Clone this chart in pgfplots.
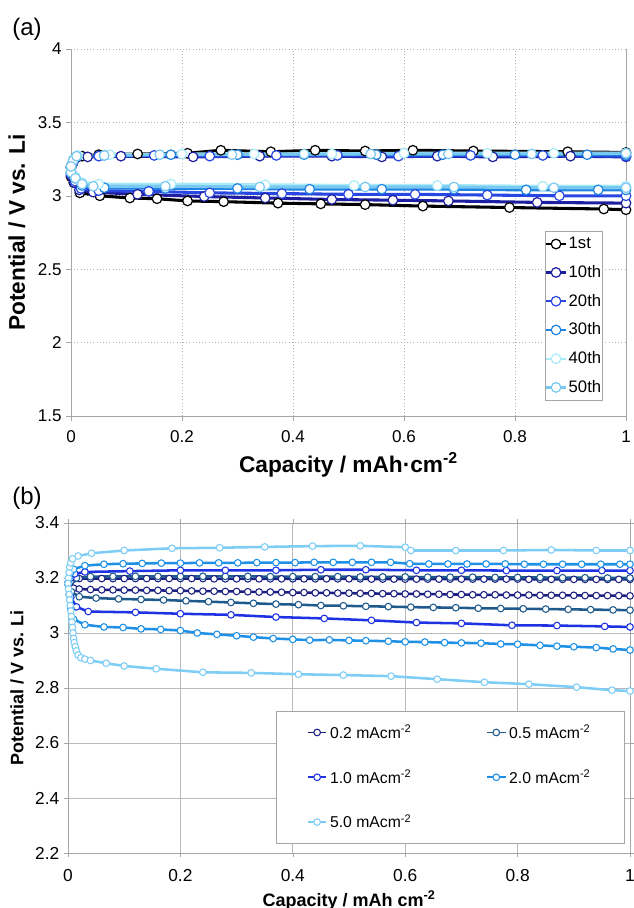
\documentclass[border=0pt]{standalone}
\usepackage{fontspec}
\setmainfont{Liberation Sans}
\usepackage{graphicx}
\usepackage{pgfplots}
\pgfplotsset{compat=1.18}

\definecolor{cA1}{RGB}{0,0,0}
\definecolor{cA10}{RGB}{30,30,160}
\definecolor{cA20}{RGB}{40,70,225}
\definecolor{cA30}{RGB}{30,130,225}
\definecolor{cA40}{RGB}{170,235,250}
\definecolor{cA50}{RGB}{120,200,240}
\definecolor{cB02}{RGB}{28,32,130}
\definecolor{cB05}{RGB}{30,90,140}
\definecolor{cB10}{RGB}{30,50,225}
\definecolor{cB20}{RGB}{30,145,230}
\definecolor{cB50}{RGB}{125,205,245}

\pgfplotsset{
  cyc/.style={color=#1, line width=2.3pt, mark=*, mark size=3.6pt,
    mark options={fill=white, line width=0.9pt, solid}},
  rate/.style={color=#1, line width=1.9pt, mark=*, mark size=2.5pt,
    mark options={fill=white, line width=0.8pt, solid}},
}

\begin{document}
\begin{tikzpicture}
\useasboundingbox (0,0) rectangle (475.5pt,681pt);
\node[font=\fontsize{18}{20}\selectfont] at (20.25pt,659pt) {(a)};
\node[font=\fontsize{18}{20}\selectfont] at (20.25pt,307pt) {(b)};

% ---------------- (a) cycling
\begin{axis}[
  at={(53.25pt,369pt)}, anchor=south west, scale only axis,
  width=416.25pt, height=275.25pt,
  xmin=0, xmax=1, ymin=1.5, ymax=4,
  xtick={0,0.2,0.4,0.6,0.8,1}, ytick={1.5,2,2.5,3,3.5,4},
  axis x line*=bottom, axis y line*=left,
  axis line style={gray!70,-},
  grid=major, major grid style={gray!60, dotted, line width=0.6pt},
  tick align=outside, major tick length=3.5pt, tick style={gray!70},
  tick label style={font=\fontsize{12.8}{14}\selectfont},
  xticklabel style={yshift=-4pt},
  /pgf/number format/assume math mode=true,
  xlabel={Capacity / mAh·cm\textsuperscript{-2}},
  ylabel={Potential / V vs. Li},
  label style={font=\bfseries\fontsize{17}{19}\selectfont},
  xlabel style={at={(axis description cs:0.5,-0.1335)}, anchor=center},
  ylabel style={at={(axis description cs:-0.0973,0.5)}, anchor=center},
  clip=false,
  legend style={at={(0.9586,0.504)}, anchor=north east, draw=gray!70,
    font=\fontsize{12.5}{14}\selectfont, row sep=10pt,
    inner xsep=0pt, inner ysep=4pt, nodes={inner xsep=1.2pt, inner ysep=0.5pt}},
  legend cell align=left,
  legend image code/.code={\draw[#1, mark repeat=2, mark phase=2, line width=1.6pt]
    plot coordinates {(0pt,0pt)(7.5pt,0pt)(15pt,0pt)};},
]
\addplot[cyc=cA1] coordinates {(0,3.13)(0.003,3.22)(0.008,3.26)(0.02,3.27)(0.05,3.28)(0.12,3.285)(0.21,3.29)(0.27,3.31)(0.36,3.30)(0.44,3.31)(0.53,3.305)(0.616,3.31)(0.725,3.305)(0.895,3.30)(1.0,3.295)};
\addlegendentry{1st}
\addplot[cyc=cA1, forget plot] coordinates {(0,3.2)(0.005,3.09)(0.016,3.02)(0.052,3.0)(0.106,2.985)(0.155,2.98)(0.21,2.965)(0.275,2.96)(0.373,2.95)(0.45,2.945)(0.53,2.94)(0.634,2.93)(0.79,2.92)(0.96,2.91)(1.0,2.905)};
\addplot[cyc=cA10] coordinates {(0,3.14)(0.004,3.23)(0.01,3.26)(0.03,3.265)(0.09,3.27)(0.22,3.265)(0.34,3.27)(0.47,3.27)(0.56,3.265)(0.66,3.27)(0.76,3.265)(0.9,3.27)(1.0,3.265)};
\addlegendentry{10th}
\addplot[cyc=cA10, forget plot] coordinates {(0,3.19)(0.006,3.09)(0.015,3.04)(0.04,3.025)(0.12,3.01)(0.24,2.995)(0.35,2.985)(0.47,2.975)(0.58,2.97)(0.68,2.965)(0.84,2.955)(1.0,2.95)};
\addplot[cyc=cA20] coordinates {(0,3.15)(0.004,3.23)(0.01,3.265)(0.05,3.27)(0.15,3.275)(0.25,3.27)(0.37,3.275)(0.48,3.275)(0.59,3.27)(0.72,3.275)(0.85,3.275)(1.0,3.27)};
\addlegendentry{20th}
\addplot[cyc=cA20, forget plot] coordinates {(0,3.19)(0.007,3.1)(0.018,3.05)(0.05,3.035)(0.14,3.03)(0.25,3.02)(0.38,3.015)(0.5,3.01)(0.62,3.01)(0.75,3.005)(0.88,3.0)(1.0,3.0)};
\addplot[cyc=cA30] coordinates {(0,3.16)(0.004,3.24)(0.012,3.27)(0.06,3.275)(0.18,3.28)(0.3,3.28)(0.42,3.28)(0.55,3.28)(0.67,3.28)(0.8,3.28)(0.93,3.28)(1.0,3.28)};
\addlegendentry{30th}
\addplot[cyc=cA30, forget plot] coordinates {(0,3.2)(0.007,3.12)(0.02,3.07)(0.06,3.055)(0.17,3.05)(0.3,3.05)(0.43,3.045)(0.56,3.045)(0.69,3.045)(0.82,3.04)(0.95,3.04)(1.0,3.04)};
\addplot[cyc=cA40] coordinates {(0,3.17)(0.004,3.25)(0.012,3.275)(0.07,3.28)(0.2,3.285)(0.33,3.285)(0.47,3.285)(0.6,3.29)(0.75,3.29)(0.87,3.29)(1.0,3.29)};
\addlegendentry{40th}
\addplot[cyc=cA40, forget plot] coordinates {(0,3.2)(0.008,3.13)(0.02,3.09)(0.05,3.08)(0.18,3.08)(0.35,3.075)(0.51,3.07)(0.66,3.07)(0.85,3.065)(1.0,3.065)};
\addplot[cyc=cA50] coordinates {(0,3.16)(0.004,3.24)(0.01,3.27)(0.06,3.275)(0.16,3.28)(0.29,3.28)(0.42,3.285)(0.54,3.285)(0.68,3.285)(0.83,3.285)(1.0,3.29)};
\addlegendentry{50th}
\addplot[cyc=cA50, forget plot] coordinates {(0,3.2)(0.008,3.12)(0.02,3.08)(0.04,3.065)(0.17,3.065)(0.34,3.06)(0.53,3.06)(0.69,3.06)(0.87,3.055)(1.0,3.055)};
\draw[gray!70] (rel axis cs:1,0) -- (rel axis cs:1,1);
\end{axis}

% ---------------- (b) rate
\begin{axis}[
  at={(51pt,41.25pt)}, anchor=south west, scale only axis,
  width=421.5pt, height=247.5pt,
  xmin=0, xmax=1, ymin=2.2, ymax=3.4,
  xtick={0,0.2,0.4,0.6,0.8,1}, ytick={2.2,2.4,2.6,2.8,3,3.2,3.4},
  axis line style={gray!70},
  grid=major, major grid style={gray!55, line width=0.7pt},
  tick align=outside, major tick length=3pt, tick style={gray!70},
  tick label style={font=\fontsize{13}{15}\selectfont},
  xticklabel style={yshift=-6pt},
  /pgf/number format/assume math mode=true,
  xlabel={Capacity / mAh cm\textsuperscript{-2}},
  ylabel={Potential / V vs. Li},
  label style={font=\bfseries\fontsize{13.5}{16}\selectfont},
  xlabel style={at={(axis description cs:0.5,-0.1424)}, anchor=center},
  ylabel style={at={(axis description cs:-0.0907,0.5)}, anchor=center},
  clip=false,
  legend columns=2,
  legend style={at={(0.370,0.430)}, anchor=north west, draw=gray!70,
    font=\fontsize{11.8}{14}\selectfont, row sep=18pt,
    inner xsep=23pt, inner ysep=8pt,
    /tikz/every even column/.append style={column sep=54pt}},
  legend cell align=left,
  legend image code/.code={\draw[#1, mark repeat=2, mark phase=2, line width=1.4pt]
    plot coordinates {(0pt,0pt)(7pt,0pt)(14pt,0pt)};},
]
\addplot[rate=cB02] coordinates {(0,3.18)(0.005,3.19)(0.01,3.196)(0.02,3.198)(0.04,3.198)(0.06,3.198)(0.08,3.198)(0.1,3.198)(0.12,3.198)(0.14,3.198)(0.16,3.198)(0.18,3.198)(0.2,3.198)(0.22,3.198)(0.24,3.198)(0.26,3.197)(0.28,3.197)(0.3,3.197)(0.32,3.197)(0.34,3.197)(0.36,3.197)(0.38,3.197)(0.4,3.197)(0.42,3.197)(0.44,3.197)(0.46,3.197)(0.48,3.197)(0.5,3.197)(0.52,3.197)(0.54,3.196)(0.56,3.196)(0.58,3.196)(0.6,3.196)(0.62,3.196)(0.64,3.196)(0.66,3.196)(0.68,3.196)(0.7,3.196)(0.72,3.196)(0.74,3.196)(0.76,3.196)(0.78,3.196)(0.8,3.196)(0.82,3.195)(0.84,3.195)(0.86,3.195)(0.88,3.195)(0.9,3.195)(0.92,3.195)(0.94,3.195)(0.96,3.195)(0.98,3.195)(1.0,3.195)};
\addlegendentry{0.2 mAcm\textsuperscript{-2}}
\addplot[rate=cB02, forget plot] coordinates {(0,3.18)(0.004,3.17)(0.01,3.163)(0.02,3.16)(0.04,3.158)(0.06,3.157)(0.08,3.157)(0.1,3.156)(0.12,3.156)(0.14,3.155)(0.16,3.155)(0.18,3.154)(0.2,3.154)(0.22,3.153)(0.24,3.152)(0.26,3.152)(0.28,3.151)(0.3,3.151)(0.32,3.15)(0.34,3.149)(0.36,3.149)(0.38,3.148)(0.4,3.147)(0.42,3.147)(0.44,3.146)(0.46,3.146)(0.48,3.145)(0.5,3.145)(0.52,3.144)(0.54,3.144)(0.56,3.143)(0.58,3.143)(0.6,3.142)(0.62,3.142)(0.64,3.141)(0.66,3.141)(0.68,3.14)(0.7,3.14)(0.72,3.139)(0.74,3.139)(0.76,3.139)(0.78,3.138)(0.8,3.138)(0.82,3.138)(0.84,3.137)(0.86,3.137)(0.88,3.137)(0.9,3.137)(0.92,3.136)(0.94,3.136)(0.96,3.136)(0.98,3.136)(1.0,3.135)};
\addplot[rate=cB05] coordinates {(0,3.18)(0.005,3.19)(0.015,3.2)(0.04,3.205)(0.08,3.206)(0.12,3.206)(0.16,3.206)(0.2,3.206)(0.24,3.206)(0.28,3.206)(0.32,3.206)(0.36,3.205)(0.4,3.205)(0.44,3.205)(0.48,3.205)(0.52,3.204)(0.56,3.204)(0.6,3.204)(0.64,3.203)(0.68,3.203)(0.72,3.203)(0.76,3.202)(0.8,3.202)(0.84,3.202)(0.88,3.201)(0.92,3.201)(0.96,3.2)(1.0,3.2)};
\addlegendentry{0.5 mAcm\textsuperscript{-2}}
\addplot[rate=cB05, forget plot] coordinates {(0,3.18)(0.006,3.15)(0.02,3.132)(0.05,3.127)(0.09,3.124)(0.13,3.122)(0.17,3.12)(0.21,3.117)(0.25,3.114)(0.29,3.111)(0.33,3.108)(0.37,3.105)(0.41,3.103)(0.45,3.1)(0.49,3.099)(0.53,3.097)(0.57,3.096)(0.61,3.094)(0.65,3.093)(0.69,3.092)(0.73,3.09)(0.77,3.089)(0.81,3.088)(0.85,3.087)(0.89,3.086)(0.93,3.085)(0.97,3.084)(1.0,3.083)};
\addplot[rate=cB10] coordinates {(0,3.18)(0.005,3.2)(0.012,3.215)(0.03,3.222)(0.11,3.225)(0.2,3.228)(0.28,3.228)(0.37,3.228)(0.45,3.23)(0.53,3.23)(0.62,3.228)(0.7,3.228)(0.78,3.227)(0.87,3.227)(0.95,3.227)(1.0,3.227)};
\addlegendentry{1.0 mAcm\textsuperscript{-2}}
\addplot[rate=cB10, forget plot] coordinates {(0,3.18)(0.005,3.13)(0.015,3.095)(0.036,3.078)(0.12,3.075)(0.2,3.07)(0.29,3.066)(0.37,3.058)(0.456,3.053)(0.54,3.046)(0.62,3.038)(0.70,3.035)(0.79,3.028)(0.87,3.027)(0.955,3.024)(1.0,3.022)};
\addplot[rate=cB20] coordinates {(0,3.18)(0.002,3.2)(0.005,3.22)(0.01,3.232)(0.03,3.245)(0.064,3.25)(0.098,3.252)(0.132,3.253)(0.166,3.254)(0.2,3.254)(0.234,3.255)(0.268,3.255)(0.302,3.255)(0.336,3.256)(0.37,3.256)(0.404,3.256)(0.438,3.257)(0.472,3.257)(0.506,3.257)(0.54,3.257)(0.574,3.257)(0.608,3.252)(0.642,3.251)(0.676,3.251)(0.71,3.251)(0.744,3.251)(0.778,3.251)(0.812,3.25)(0.846,3.25)(0.88,3.25)(0.914,3.25)(0.948,3.25)(0.982,3.25)(1.0,3.25)};
\addlegendentry{2.0 mAcm\textsuperscript{-2}}
\addplot[rate=cB20, forget plot] coordinates {(0,3.18)(0.002,3.14)(0.005,3.09)(0.01,3.05)(0.03,3.03)(0.064,3.022)(0.098,3.02)(0.13,3.015)(0.165,3.013)(0.2,3.009)(0.23,3.0)(0.265,2.995)(0.3,2.99)(0.33,2.985)(0.365,2.98)(0.4,2.977)(0.43,2.974)(0.465,2.975)(0.5,2.973)(0.53,2.972)(0.57,2.97)(0.6,2.968)(0.635,2.967)(0.67,2.965)(0.7,2.964)(0.735,2.963)(0.77,2.96)(0.8,2.959)(0.84,2.955)(0.87,2.952)(0.9,2.95)(0.94,2.947)(0.97,2.942)(1.0,2.938)};
\addplot[rate=cB50] coordinates {(0,3.18)(0.001,3.2)(0.002,3.22)(0.003,3.24)(0.005,3.255)(0.008,3.27)(0.018,3.28)(0.042,3.29)(0.10,3.30)(0.185,3.308)(0.27,3.31)(0.35,3.313)(0.435,3.316)(0.52,3.317)(0.6,3.312)(0.61,3.30)(0.69,3.30)(0.775,3.30)(0.86,3.302)(0.94,3.30)(1.0,3.30)};
\addlegendentry{5.0 mAcm\textsuperscript{-2}}
\addplot[rate=cB50, forget plot] coordinates {(0,3.18)(0.001,3.16)(0.002,3.14)(0.003,3.12)(0.004,3.10)(0.005,3.08)(0.006,3.06)(0.007,3.04)(0.008,3.02)(0.009,3.0)(0.010,2.98)(0.011,2.965)(0.013,2.95)(0.015,2.935)(0.018,2.92)(0.023,2.91)(0.03,2.905)(0.04,2.9)(0.068,2.89)(0.1,2.88)(0.157,2.87)(0.24,2.857)(0.326,2.855)(0.41,2.85)(0.49,2.847)(0.575,2.843)(0.657,2.832)(0.741,2.821)(0.82,2.814)(0.905,2.803)(0.968,2.792)(1.0,2.789)};
\end{axis}
\end{tikzpicture}
\end{document}
